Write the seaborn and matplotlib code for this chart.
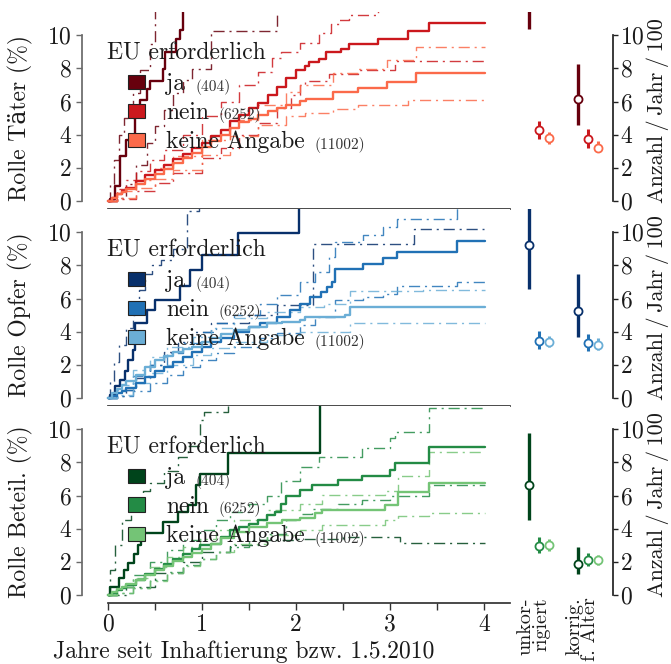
import numpy as np
import pandas as pd
import seaborn as sns
import matplotlib
matplotlib.use("Agg")
import matplotlib.pyplot as plt
from matplotlib.patches import Patch
from matplotlib.ticker import MultipleLocator, FuncFormatter

# ---------------- data ----------------
groups = ["ja", "nein", "keine Angabe"]
counts = ["(404)", "(6252)", "(11002)"]
role_labels = ["Rolle Täter (%)", "Rolle Opfer (%)", "Rolle Beteil. (%)"]
right_ticklabels = ["unkor-\nrigiert", "korrig.\nf. Alter"]
xlabel = "Jahre seit Inhaftierung bzw. 1.5.2010"
ylabel_right = "Anzahl\u2009/\u2009Jahr\u2009/\u2009100"

reds = ["#67000d", "#cb181d", "#fb6a4a"]
blues = ["#08306b", "#2171b5", "#6baed6"]
greens = ["#00441b", "#238b45", "#74c476"]

# cumulative incidence step curves: (time, value)
taeter_ja = ([0, 0.03, 0.08, 0.13, 0.2, 0.29, 0.34, 0.42, 0.45, 0.59, 0.61, 0.73, 0.77, 0.80],
             [0, 0.1, 0.9, 2.7, 3.7, 5.5, 6.1, 6.74, 7.24, 7.95, 8.96, 9.76, 10.3, 12.0])
taeter_ja_hi = ([0, 0.03, 0.07, 0.12, 0.17, 0.27, 0.35, 0.45, 0.5],
                [0, 1.0, 2.5, 4.0, 5.0, 6.5, 7.9, 9.5, 12.0])
taeter_ja_lo = ([0, 0.1, 0.2, 0.3, 0.42, 0.5, 0.6, 0.7, 0.8, 0.9, 1.1, 1.8],
                [0, 0.2, 1.0, 2.2, 3.5, 4.5, 5.5, 6.5, 7.3, 7.95, 10.26, 12.0])
taeter_nein = ([0, 0.05, 0.1, 0.15, 0.2, 0.3, 0.4, 0.5, 0.6, 0.7, 0.8, 0.9, 1.0, 1.1, 1.2, 1.3, 1.4, 1.5,
                1.6, 1.7, 1.8, 1.9, 2.0, 2.10, 2.14, 2.24, 2.32, 2.48, 2.56, 2.87, 3.19, 3.41, 4.01],
               [0, 0.2, 0.4, 0.6, 0.8, 1.2, 1.55, 1.9, 2.2, 2.55, 2.85, 3.2, 3.5, 3.9, 4.3, 4.8, 5.2, 5.6,
                5.9, 6.4, 6.9, 7.4, 7.9, 8.15, 8.39, 8.55, 9.0, 9.2, 9.48, 9.76, 10.24, 10.72, 10.72])
taeter_nein_hi = ([0, 0.1, 0.2, 0.3, 0.45, 0.6, 0.8, 1.0, 1.2, 1.4, 1.6, 1.75, 1.84, 2.04, 2.25, 2.37, 2.46, 2.56, 2.87],
                  [0, 0.7, 1.3, 1.8, 2.5, 3.1, 4.0, 5.1, 6.0, 7.0, 7.8, 8.6, 9.0, 9.56, 10.16, 10.67, 10.92, 11.25, 12.0])
taeter_nein_lo = ([0, 0.1, 0.3, 0.5, 0.7, 1.0, 1.2, 1.4, 1.6, 1.8, 1.95, 2.04, 2.1, 2.35, 2.66, 3.05, 4.01],
                  [0, 0.1, 0.6, 1.1, 1.7, 2.6, 3.2, 4.0, 4.7, 5.6, 6.4, 7.0, 7.24, 7.65, 7.89, 8.43, 8.43])
taeter_keine = ([0, 0.05, 0.1, 0.15, 0.2, 0.3, 0.4, 0.5, 0.6, 0.7, 0.8, 0.9, 1.0, 1.1, 1.2, 1.3, 1.4, 1.5, 1.6,
                 1.7, 1.8, 1.9, 2.04, 2.11, 2.39, 2.66, 2.97, 3.27, 4.01],
                [0, 0.2, 0.4, 0.55, 0.7, 1.0, 1.35, 1.65, 1.95, 2.3, 2.6, 2.9, 3.25, 3.6, 4.0, 4.4, 4.75, 4.95, 5.2,
                 5.45, 5.6, 5.8, 6.03, 6.18, 6.6, 6.84, 7.18, 7.71, 7.71])
taeter_keine_hi = ([0, 0.1, 0.3, 0.5, 0.7, 1.0, 1.3, 1.6, 1.9, 2.04, 2.39, 2.66, 2.97, 3.27, 4.01],
                   [0, 0.6, 1.3, 2.0, 2.7, 3.7, 4.9, 5.8, 6.6, 7.0, 7.7, 7.95, 8.49, 9.3, 9.3])
taeter_keine_lo = ([0, 0.1, 0.3, 0.5, 0.7, 1.0, 1.3, 1.6, 1.9, 2.1, 2.39, 2.66, 3.19, 4.01],
                   [0, 0.2, 0.8, 1.35, 1.9, 2.8, 3.9, 4.6, 5.1, 5.33, 5.58, 5.78, 6.08, 6.08])

opfer_ja = ([0, 0.03, 0.08, 0.13, 0.19, 0.22, 0.27, 0.29, 0.42, 0.5, 0.77, 0.88, 1.0, 1.39, 2.03],
            [0, 0.2, 0.7, 1.1, 1.6, 2.3, 2.9, 4.5, 5.3, 5.93, 6.74, 7.74, 8.65, 9.96, 12.0])
opfer_ja_hi = ([0, 0.03, 0.07, 0.12, 0.2, 0.27, 0.33, 0.4, 0.47, 0.57, 0.7, 0.84, 0.97],
               [0, 1.0, 2.2, 3.2, 4.2, 5.0, 6.5, 7.5, 8.05, 8.3, 9.0, 11.26, 12.0])
opfer_ja_lo = ([0, 0.1, 0.2, 0.3, 0.45, 0.6, 0.75, 0.9, 1.1, 1.5, 1.8, 2.18, 3.25, 4.0],
               [0, 0.1, 0.5, 1.2, 2.0, 2.8, 3.4, 4.0, 4.5, 5.0, 5.63, 9.29, 10.2, 10.2])
opfer_nein = ([0, 0.05, 0.1, 0.15, 0.2, 0.3, 0.4, 0.5, 0.6, 0.7, 0.8, 0.9, 1.0, 1.1, 1.2, 1.34, 1.5, 1.62, 1.8,
               1.94, 2.04, 2.15, 2.27, 2.33, 2.38, 2.41, 2.71, 2.93, 3.07, 3.71, 4.01],
              [0, 0.15, 0.3, 0.45, 0.6, 0.9, 1.25, 1.6, 1.9, 2.2, 2.5, 2.8, 3.1, 3.35, 3.6, 4.0, 4.3, 4.5, 4.9,
               5.3, 5.7, 6.1, 6.4, 6.7, 7.0, 7.8, 8.09, 8.45, 8.81, 9.49, 9.49])
opfer_nein_hi = ([0, 0.1, 0.27, 0.45, 0.63, 0.8, 0.98, 1.15, 1.34, 1.62, 1.8, 2.04, 2.2, 2.35, 2.41, 2.71, 2.93, 3.07, 3.71],
                 [0, 0.5, 1.3, 2.0, 2.7, 3.3, 4.0, 4.5, 5.0, 5.7, 6.2, 7.0, 7.6, 8.5, 9.4, 9.86, 10.3, 10.82, 12.0])
opfer_nein_lo = ([0, 0.1, 0.27, 0.45, 0.63, 0.8, 0.98, 1.15, 1.34, 1.62, 1.8, 2.04, 2.2, 2.41, 2.71, 2.93, 3.07, 3.71, 4.01],
                 [0, 0.1, 0.4, 0.9, 1.4, 1.85, 2.3, 2.7, 3.1, 3.6, 3.9, 4.4, 4.9, 5.9, 6.1, 6.3, 6.74, 7.0, 7.0])
opfer_keine = ([0, 0.05, 0.1, 0.15, 0.2, 0.3, 0.4, 0.5, 0.6, 0.7, 0.8, 0.9, 1.0, 1.1, 1.2, 1.34, 1.5, 1.69, 1.85,
                2.04, 2.1, 2.52, 2.57, 4.01],
               [0, 0.3, 0.55, 0.8, 1.0, 1.4, 1.9, 2.3, 2.55, 2.75, 2.95, 3.1, 3.35, 3.6, 3.85, 4.1, 4.3, 4.5, 4.6,
                4.73, 4.86, 5.0, 5.47, 5.47])
opfer_keine_hi = ([0, 0.1, 0.27, 0.45, 0.63, 0.91, 1.1, 1.34, 1.69, 2.04, 2.3, 2.57, 3.35, 4.01],
                  [0, 0.8, 1.7, 2.5, 3.1, 3.7, 4.2, 4.8, 5.2, 5.5, 5.7, 6.43, 6.5, 6.5])
opfer_keine_lo = ([0, 0.1, 0.27, 0.45, 0.63, 0.91, 1.1, 1.34, 1.69, 2.04, 2.57, 4.01],
                  [0, 0.2, 0.9, 1.5, 2.0, 2.6, 3.0, 3.4, 3.8, 4.0, 4.52, 4.52])

beteil_ja = ([0, 0.03, 0.12, 0.17, 0.22, 0.28, 0.32, 0.36, 0.59, 0.75, 0.85, 0.94, 0.98, 1.28, 2.26],
             [0, 0.5, 1.0, 1.5, 1.9, 2.5, 3.0, 3.72, 4.4, 5.0, 5.43, 6.64, 7.3, 8.55, 12.0])
beteil_ja_hi = ([0, 0.03, 0.08, 0.15, 0.25, 0.38, 0.45, 0.6, 0.75, 0.85, 0.98, 1.02, 1.28],
                [0, 1.5, 3.0, 4.5, 5.5, 6.3, 6.76, 7.5, 8.3, 9.0, 10.56, 11.06, 12.0])
beteil_ja_lo = ([0, 0.2, 0.5, 0.8, 1.0, 1.3, 1.6, 2.0, 2.5, 3.1, 4.01],
                [0, 0.5, 1.3, 2.0, 2.6, 3.0, 3.3, 3.4, 3.52, 3.12, 3.12])
beteil_nein = ([0, 0.05, 0.1, 0.15, 0.2, 0.3, 0.4, 0.5, 0.6, 0.7, 0.8, 0.9, 0.98, 1.1, 1.2, 1.3, 1.4, 1.5, 1.6,
                1.69, 1.78, 1.84, 1.9, 2.04, 2.17, 2.45, 2.70, 3.0, 3.05, 3.41, 4.01],
               [0, 0.15, 0.3, 0.45, 0.6, 0.9, 1.25, 1.55, 1.85, 2.2, 2.5, 2.8, 3.0, 3.1, 3.5, 3.9, 4.1, 4.3, 4.5,
                4.8, 5.0, 5.5, 6.0, 6.34, 6.64, 6.94, 7.2, 7.54, 7.94, 8.95, 8.95])
beteil_nein_hi = ([0, 0.1, 0.27, 0.45, 0.63, 0.8, 0.98, 1.15, 1.3, 1.5, 1.69, 1.84, 2.04, 2.25, 2.70, 3.0, 3.05, 3.41, 4.01],
                  [0, 0.5, 1.2, 2.0, 2.7, 3.3, 3.9, 4.5, 5.0, 5.5, 6.0, 6.9, 7.74, 8.35, 8.85, 9.46, 9.86, 11.27, 11.27])
beteil_nein_lo = ([0, 0.1, 0.27, 0.45, 0.63, 0.8, 0.98, 1.15, 1.3, 1.5, 1.69, 1.9, 2.04, 2.17, 2.45, 2.70, 3.0, 3.41, 4.01],
                  [0, 0.1, 0.4, 0.9, 1.4, 1.8, 2.2, 2.6, 2.9, 3.3, 3.7, 4.5, 4.9, 5.2, 5.5, 5.7, 6.0, 6.64, 6.64])
beteil_keine = ([0, 0.05, 0.1, 0.15, 0.2, 0.3, 0.4, 0.5, 0.6, 0.7, 0.8, 0.9, 1.0, 1.1, 1.2, 1.34, 1.5, 1.69, 1.85,
                 2.04, 2.2, 2.28, 2.95, 3.08, 3.41, 4.01],
                [0, 0.2, 0.35, 0.5, 0.65, 0.9, 1.2, 1.5, 1.75, 2.05, 2.3, 2.55, 2.8, 3.1, 3.45, 3.8, 4.1, 4.33, 4.5,
                 4.63, 4.93, 5.1, 5.43, 6.2, 6.78, 6.78])
beteil_keine_hi = ([0, 0.1, 0.27, 0.45, 0.63, 0.8, 0.98, 1.15, 1.34, 1.69, 2.04, 2.28, 2.95, 3.08, 3.41, 4.01],
                   [0, 0.5, 1.0, 1.7, 2.3, 2.9, 3.4, 3.9, 4.5, 5.1, 5.5, 6.03, 6.3, 7.2, 8.65, 8.65])
beteil_keine_lo = ([0, 0.1, 0.27, 0.45, 0.63, 0.8, 0.98, 1.15, 1.34, 1.69, 2.04, 2.28, 2.95, 3.08, 3.41, 4.01],
                   [0, 0.15, 0.4, 0.85, 1.3, 1.75, 2.2, 2.6, 3.1, 3.6, 3.9, 4.25, 4.5, 4.75, 4.93, 4.93])

# rates (Anzahl/Jahr/100): order ja, nein, keine Angabe
taeter_unkor = [13.0, 4.29, 3.78]
taeter_unkor_lo = [10.4, 3.72, 3.42]
taeter_unkor_hi = [16.0, 4.83, 4.17]
taeter_korr = [6.18, 3.77, 3.22]
taeter_korr_lo = [4.57, 3.22, 2.96]
taeter_korr_hi = [8.25, 4.33, 3.62]

opfer_unkor = [9.25, 3.42, 3.36]
opfer_unkor_lo = [6.6, 2.96, 3.08]
opfer_unkor_hi = [12.5, 4.02, 3.76]
opfer_korr = [5.23, 3.32, 3.22]
opfer_korr_lo = [3.66, 2.85, 2.92]
opfer_korr_hi = [7.48, 3.86, 3.62]

beteil_unkor = [6.64, 2.96, 3.02]
beteil_unkor_lo = [4.53, 2.52, 2.67]
beteil_unkor_hi = [9.76, 3.48, 3.36]
beteil_korr = [1.87, 2.11, 2.11]
beteil_korr_lo = [1.27, 1.77, 1.81]
beteil_korr_hi = [2.92, 2.52, 2.41]

# ---------------- assemble long tables ----------------
panels = [
    ("taeter", reds,
     [(taeter_ja, taeter_ja_lo, taeter_ja_hi), (taeter_nein, taeter_nein_lo, taeter_nein_hi),
      (taeter_keine, taeter_keine_lo, taeter_keine_hi)],
     (taeter_unkor, taeter_unkor_lo, taeter_unkor_hi, taeter_korr, taeter_korr_lo, taeter_korr_hi)),
    ("opfer", blues,
     [(opfer_ja, opfer_ja_lo, opfer_ja_hi), (opfer_nein, opfer_nein_lo, opfer_nein_hi),
      (opfer_keine, opfer_keine_lo, opfer_keine_hi)],
     (opfer_unkor, opfer_unkor_lo, opfer_unkor_hi, opfer_korr, opfer_korr_lo, opfer_korr_hi)),
    ("beteil", greens,
     [(beteil_ja, beteil_ja_lo, beteil_ja_hi), (beteil_nein, beteil_nein_lo, beteil_nein_hi),
      (beteil_keine, beteil_keine_lo, beteil_keine_hi)],
     (beteil_unkor, beteil_unkor_lo, beteil_unkor_hi, beteil_korr, beteil_korr_lo, beteil_korr_hi)),
]

rows = []
for pname, _, curves, _ in panels:
    for g, (est, lo, hi) in zip(groups, curves):
        for kind, (t, v) in (("est", est), ("lo", lo), ("hi", hi)):
            for ti, vi in zip(t, v):
                rows.append(dict(panel=pname, group=g, kind=kind, t=ti, v=vi))
curves_df = pd.DataFrame(rows)

rrows = []
for pname, _, _, rates in panels:
    u, ul, uh, k, kl, kh = rates
    for i, g in enumerate(groups):
        rrows.append(dict(panel=pname, group=g, gi=i, method=0, est=u[i], lo=ul[i], hi=uh[i]))
        rrows.append(dict(panel=pname, group=g, gi=i, method=1, est=k[i], lo=kl[i], hi=kh[i]))
rates_df = pd.DataFrame(rrows)

# ---------------- style ----------------
sns.set_theme(style="ticks")
plt.rcParams["font.family"] = ["cmr10", "DejaVu Serif"]
plt.rcParams["axes.formatter.use_mathtext"] = True
plt.rcParams["mathtext.fontset"] = "cm"
FS = 16
FS_TICK = 17
FS_LEG = 17
TXT = "#1a1a1a"

W, H = 671, 664
fig = plt.figure(figsize=(W / 100, H / 100), dpi=100)

left_l, left_r = 81.7, 510.0
right_l, right_r = 515.0, 612.7
top_px = 11.7
row_h = 196.97

XMIN, XMAX = -0.274, 4.273
YMIN, YMAX = -0.459, 11.42
RXMIN, RXMAX = -0.2857, 1.708
hue_offset = [0.0, 0.2, 0.4]
ci_dash = (0, (8, 3.5, 1.5, 3.5))

for r, (pname, cols, _, _) in enumerate(panels):
    y_top = top_px + r * row_h
    b = 1 - (y_top + row_h) / H
    hh = row_h / H
    ax = fig.add_axes([left_l / W, b, (left_r - left_l) / W, hh])
    axr = fig.add_axes([right_l / W, b, (right_r - right_l) / W, hh])

    sub = curves_df[curves_df.panel == pname]
    for g, c in zip(groups, cols):
        for kind in ("lo", "hi", "est"):
            d = sub[(sub.group == g) & (sub.kind == kind)]
            if kind == "est":
                sns.lineplot(data=d, x="t", y="v", ax=ax, color=c, estimator=None,
                             drawstyle="steps-post", lw=1.7, legend=False, zorder=3)
            else:
                sns.lineplot(data=d, x="t", y="v", ax=ax, color=c, estimator=None,
                             drawstyle="steps-post", lw=1.0, alpha=0.85,
                             linestyle=ci_dash, legend=False, zorder=2)

    ax.set_xlim(XMIN, XMAX)
    ax.set_ylim(YMIN, YMAX)
    ax.xaxis.set_major_locator(MultipleLocator(0.5))
    ax.xaxis.set_major_formatter(FuncFormatter(
        lambda v, p: f"{int(round(v))}" if abs(v - round(v)) < 1e-6 else ""))
    ax.set_yticks([0, 2, 4, 6, 8, 10])
    for s in ("top", "right"):
        ax.spines[s].set_visible(False)
    ax.spines["left"].set_bounds(0, 10)
    ax.spines["left"].set_color("#6a6a6a")
    ax.spines["bottom"].set_bounds(0, XMAX)
    ax.spines["bottom"].set_color("#333333")
    ax.tick_params(axis="y", length=4, width=1, color="#6a6a6a", labelsize=FS_TICK, pad=3, labelcolor=TXT)
    ax.tick_params(axis="x", length=5, width=1, color="#333333", labelsize=FS_TICK, pad=3, labelcolor=TXT)
    if r < 2:
        ax.tick_params(axis="x", labelbottom=False)
        ax.set_xlabel("")
    else:
        ax.set_xlabel(xlabel, fontsize=FS_LEG, color=TXT)
        ax.xaxis.set_label_coords(0.379, -0.19)
    ax.set_ylabel(role_labels[r], fontsize=FS_LEG, color=TXT)
    ax.yaxis.set_label_coords(-0.113, (5 - YMIN) / (YMAX - YMIN))

    # legend
    ax.text(0.059, 0.79, "EU erforderlich", transform=ax.transAxes, fontsize=FS_LEG,
            va="center", ha="left", color=TXT)
    handles = [Patch(facecolor=c, edgecolor="#222222", linewidth=0.8) for c in cols]
    leg = ax.legend(handles, groups, loc="upper left", bbox_to_anchor=(0.108, 0.688),
                    frameon=False, fontsize=FS_LEG, handlelength=0.72, handleheight=0.55,
                    handletextpad=0.9, labelspacing=0.28, borderpad=0, borderaxespad=0)
    for t in leg.get_texts():
        t.set_color(TXT)
    for t, cnt in zip(leg.get_texts(), counts):
        ax.annotate(cnt, xy=(1, 0), xycoords=t, xytext=(7, 0.4), textcoords="offset points",
                    fontsize=11, va="bottom", ha="left", color="#333333", zorder=7,
                    annotation_clip=False)

    # right panel: rates
    rsub = rates_df[rates_df.panel == pname]
    for gi, (g, c) in enumerate(zip(groups, cols)):
        d = rsub[rsub.gi == gi]
        xpos = d["method"].to_numpy() + hue_offset[gi]
        est = d["est"].to_numpy()
        axr.errorbar(xpos, est, yerr=[est - d["lo"].to_numpy(), d["hi"].to_numpy() - est],
                     fmt="o", color=c, ecolor=c, elinewidth=2.4 if gi == 0 else 2.2,
                     capsize=0, ms=5.8, mfc="white", mec=c, mew=1.3, zorder=3)
    axr.set_xlim(RXMIN, RXMAX)
    axr.set_ylim(YMIN, YMAX)
    axr.set_yticks([0, 2, 4, 6, 8, 10])
    axr.yaxis.tick_right()
    axr.yaxis.set_label_position("right")
    for s in ("top", "left", "bottom"):
        axr.spines[s].set_visible(False)
    axr.spines["right"].set_bounds(0, 10)
    axr.spines["right"].set_color("#222222")
    axr.tick_params(axis="y", length=3.5, width=1, color="#222222", labelsize=FS_TICK, pad=2, labelcolor=TXT)
    axr.set_ylabel(ylabel_right, fontsize=FS, color=TXT, rotation=90)
    axr.yaxis.set_label_coords(1.35, 0.5)
    if r == 2:
        axr.set_xticks([0.1, 1.08])
        axr.set_xticklabels(right_ticklabels, rotation=90, va="top", ha="center",
                            multialignment="right", linespacing=0.85, fontsize=14.5, color=TXT)
        axr.tick_params(axis="x", length=0, pad=-4)
    else:
        axr.set_xticks([])

fig.canvas.draw()
fig.savefig("out.png", dpi=100)
